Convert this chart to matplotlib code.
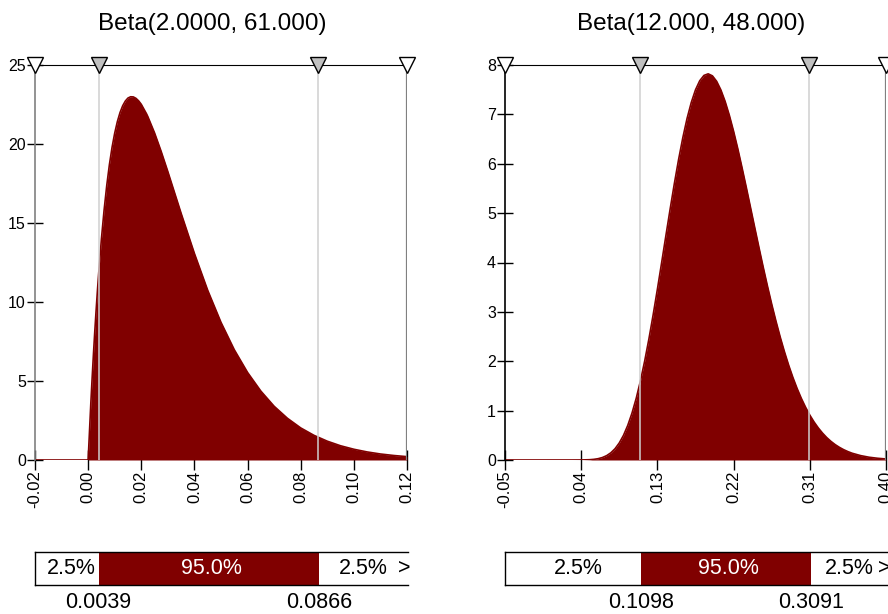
"""Two Beta density panels with 90% band markers and a percentile bar underneath."""

import matplotlib.pyplot as plt

plt.rcParams["font.family"] = ["Liberation Sans", "DejaVu Sans"]

RED = "#800000"

# ---- left panel: Beta(2, 61)
left_title = "Beta(2.0000, 61.000)"
left_x = [-0.02, 0.0, 0.001, 0.0015, 0.002, 0.0025, 0.003, 0.0035, 0.004, 0.005,
          0.006, 0.007, 0.008, 0.009, 0.010, 0.011, 0.012, 0.013, 0.014, 0.015,
          0.016, 0.017, 0.018, 0.019, 0.020, 0.022, 0.0225, 0.025, 0.0275, 0.030,
          0.0325, 0.035, 0.040, 0.045, 0.050, 0.055, 0.060, 0.065, 0.070, 0.075,
          0.080, 0.085, 0.090, 0.095, 0.100, 0.105, 0.110, 0.115, 0.120]
left_pdf = [0.0, 0.0, 3.56, 5.18, 6.71, 8.14, 9.47, 10.73, 11.89, 14.00,
            15.81, 17.37, 18.69, 19.79, 20.69, 21.42, 21.99, 22.42, 22.72, 22.91,
            22.99, 22.98, 22.89, 22.73, 22.51, 21.90, 21.72, 20.70, 19.52, 18.25,
            16.93, 15.61, 13.07, 10.74, 8.71, 6.98, 5.54, 4.36, 3.40, 2.64,
            2.03, 1.56, 1.19, 0.90, 0.68, 0.51, 0.38, 0.285, 0.212]
left_xlim = (-0.02, 0.12)
left_ylim = (0, 25)
left_xticks = [-0.02, 0.00, 0.02, 0.04, 0.06, 0.08, 0.10, 0.12]
left_xticklabels = ["-0.02", "0.00", "0.02", "0.04", "0.06", "0.08", "0.10", "0.12"]
left_yticks = [0, 5, 10, 15, 20, 25]
left_q = [0.0039, 0.0866]
left_q_labels = ["0.0039", "0.0866"]

# ---- right panel: Beta(12, 48)
right_title = "Beta(12.000, 48.000)"
right_x = [-0.05, 0.0, 0.03, 0.04, 0.05, 0.055, 0.06, 0.065, 0.07, 0.075, 0.08,
           0.085, 0.09, 0.095, 0.10, 0.105, 0.11, 0.115, 0.12, 0.125, 0.13,
           0.135, 0.14, 0.145, 0.15, 0.155, 0.16, 0.165, 0.17, 0.175, 0.18,
           0.185, 0.19, 0.195, 0.20, 0.205, 0.21, 0.215, 0.22, 0.225, 0.23,
           0.235, 0.24, 0.245, 0.25, 0.255, 0.26, 0.265, 0.27, 0.275, 0.28,
           0.285, 0.29, 0.295, 0.30, 0.305, 0.31, 0.315, 0.32, 0.325, 0.33,
           0.335, 0.34, 0.345, 0.35, 0.355, 0.36, 0.37, 0.38, 0.39, 0.40]
right_pdf = [0.0, 0.0, 0.0001, 0.0008, 0.0059, 0.0131, 0.0266, 0.0499, 0.0877, 0.1454, 0.229,
             0.346, 0.501, 0.701, 0.950, 1.250, 1.603, 2.006, 2.454, 2.942, 3.459,
             3.996, 4.540, 5.077, 5.596, 6.083, 6.526, 6.915, 7.240, 7.497, 7.681,
             7.789, 7.821, 7.780, 7.669, 7.494, 7.262, 6.980, 6.657, 6.301, 5.918,
             5.521, 5.113, 4.705, 4.300, 3.904, 3.522, 3.158, 2.815, 2.493, 2.196,
             1.922, 1.674, 1.449, 1.248, 1.069, 0.910, 0.771, 0.650, 0.545, 0.454,
             0.377, 0.311, 0.256, 0.209, 0.170, 0.137, 0.089, 0.056, 0.035, 0.021]
right_xlim = (-0.05, 0.40)
right_ylim = (0, 8)
right_xticks = [-0.05, 0.04, 0.13, 0.22, 0.31, 0.40]
right_xticklabels = ["-0.05", "0.04", "0.13", "0.22", "0.31", "0.40"]
right_yticks = [0, 1, 2, 3, 4, 5, 6, 7, 8]
right_q = [0.1098, 0.3091]
right_q_labels = ["0.1098", "0.3091"]

band_labels = ["2.5%", "95.0%", "2.5%"]

W, H = 888, 614


def px_axes(fig, left, top, right, bottom):
    return fig.add_axes([left / W, 1 - bottom / H, (right - left) / W, (bottom - top) / H])


def panel(fig, box, bar_box, title, title_x, x, pdf, xlim, ylim, xticks, xticklabels,
          yticks, q, q_labels, left_spine):
    ax = px_axes(fig, *box)
    ax.set_axisbelow(True)
    ax.fill_between(x, pdf, 0, color=RED, linewidth=0, zorder=1)
    ax.plot(x, pdf, color=RED, linewidth=1.2, zorder=1.5)
    ax.set_xlim(*xlim)
    ax.set_ylim(*ylim)
    ax.set_xticks(xticks)
    ax.set_xticklabels(xticklabels, rotation=90, fontsize=12)
    ax.set_yticks(yticks)
    ax.set_yticklabels([str(v) for v in yticks], fontsize=11.5)
    ax.tick_params(axis="x", direction="inout", length=14, width=1, pad=0.5)
    ax.tick_params(axis="y", direction="inout", length=12, width=1, pad=0.5)
    for side in ("bottom", "right"):
        ax.spines[side].set_visible(False)
    ax.spines["top"].set_color("black")
    ax.spines["left"].set_color(left_spine)
    ax.spines["left"].set_linewidth(1.2)

    for v in q:
        ax.axvline(v, color="#cfcfcf", linewidth=1.1, zorder=2)
    ax.axvline(xlim[1], color="#808080", linewidth=1.6, zorder=2)
    ax.plot(q, [ylim[1]] * len(q), linestyle="none", marker="v", markersize=11,
            markerfacecolor="#c0c0c0", markeredgecolor="black", markeredgewidth=1,
            clip_on=False, zorder=5)
    ax.plot(list(xlim), [ylim[1]] * 2, linestyle="none", marker="v", markersize=11,
            markerfacecolor="white", markeredgecolor="black", markeredgewidth=1,
            clip_on=False, zorder=5)

    fig.text(title_x / W, 1 - 24 / H, title, fontsize=17.5, ha="center", va="center")

    # percentile bar
    bx = px_axes(fig, *bar_box)
    bx.set_xlim(*xlim)
    bx.set_ylim(0, 1)
    bx.set_xticks([])
    bx.set_yticks([])
    bx.spines["right"].set_visible(False)
    for side in ("top", "left", "bottom"):
        bx.spines[side].set_color("black")
        bx.spines[side].set_linewidth(1)
    bx.axvspan(q[0], q[1], color=RED, linewidth=0)
    fs = 15.5
    bx.annotate(band_labels[0], ((xlim[0] + q[0]) / 2, 0.5), xycoords=("data", "axes fraction"),
                xytext=(3.5, 0), textcoords="offset points", ha="center", va="center", fontsize=fs)
    bx.annotate(band_labels[1], ((q[0] + q[1]) / 2, 0.5), xycoords=("data", "axes fraction"),
                xytext=(2, 0), textcoords="offset points", ha="center", va="center",
                fontsize=fs, color="white")
    bx.annotate(band_labels[2], ((q[1] + xlim[1]) / 2, 0.5), xycoords=("data", "axes fraction"),
                ha="center", va="center", fontsize=fs)
    bx.annotate(">", (1, 0.5), xycoords="axes fraction", xytext=(-3, 0),
                textcoords="offset points", ha="center", va="center", fontsize=fs)
    for v, lab in zip(q, q_labels):
        bx.annotate(lab, (v, 0), xycoords=("data", "axes fraction"), xytext=(0, -5),
                    textcoords="offset points", ha="center", va="top", fontsize=fs,
                    annotation_clip=False)
    return ax


fig = plt.figure(figsize=(W / 100, H / 100), dpi=100)

panel(fig, (35, 65, 407, 460), (35, 552, 408, 585), left_title, 212,
      left_x, left_pdf, left_xlim, left_ylim, left_xticks, left_xticklabels,
      left_yticks, left_q, left_q_labels, "#808080")
panel(fig, (505, 65, 886, 460), (505, 552, 888, 585), right_title, 691,
      right_x, right_pdf, right_xlim, right_ylim, right_xticks, right_xticklabels,
      right_yticks, right_q, right_q_labels, "black")

fig.savefig("out.png", dpi=100)
